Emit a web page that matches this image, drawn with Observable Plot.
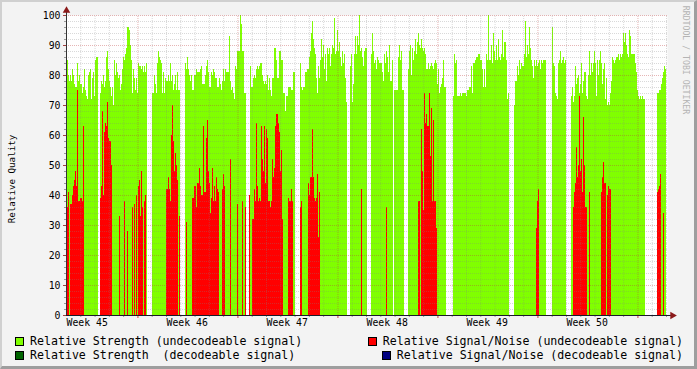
<!DOCTYPE html>
<html>
<head>
<meta charset="utf-8">
<script src="https://cdn.jsdelivr.net/npm/d3@7"></script>
<script src="https://cdn.jsdelivr.net/npm/@observablehq/plot@0.6"></script>
<style>
  html, body { margin: 0; padding: 0; background: #f3f3f3; }
  #chart { position: relative; width: 697px; height: 369px; background: #f3f3f3; overflow: hidden;
           font-family: "DejaVu Sans Mono", monospace; color: #000; }
  #chart svg { position: absolute; left: 0; top: 0; }
  #border { position: absolute; left: 0; top: 0; width: 697px; height: 369px; box-sizing: border-box;
            border-style: solid; border-width: 2px 3px 3px 2px;
            border-color: #d0d0d0 #9e9e9e #9e9e9e #d0d0d0; pointer-events: none; }
  .ylabel { position: absolute; left: 11px; top: 179px; transform: translate(-50%, -50%) rotate(-90deg);
            font-size: 9.2px; white-space: pre; }
  .watermark { position: absolute; left: 686px; top: 60px; transform: translate(-50%, -50%) rotate(90deg);
               font-size: 8.2px; color: #b4b4b4; white-space: pre; }
  .leg { position: absolute; display: flex; align-items: center; font-size: 11.6px; line-height: 14px; white-space: pre; }
  .leg .box { width: 7px; height: 7px; border: 1px solid #000; margin-right: 6px; flex: none; }
</style>
</head>
<body>
<div id="chart"></div>
<script>
// ---------------- data (one value per time slot, ~1.7 h each; null = no data) ----------------
const weekLabels = ["Week 45", "Week 46", "Week 47", "Week 48", "Week 49", "Week 50"];
const slotsPerWeek = 100;
const slotsPerDay = 100 / 7;
const nSlots = 601;

// Relative Strength (undecodeable signal)
const strengthUndecodeable = [
  85,85,80,78,80,78,82,80,77,76,
  76,84,78,80,77,77,74,76,82,75,
  73,72,80,81,82,72,79,81,73,85,
  86,86,null,null,74,78,77,80,76,78,
  86,88,82,78,76,73,76,70,85,80,
  84,81,79,80,75,77,82,86,85,87,
  89,96,96,95,90,85,74,82,79,75,
  79,74,84,83,83,82,83,81,83,81,
  84,null,null,null,null,null,74,74,80,77,
  74,84,88,86,85,84,74,81,74,79,
  78,78,80,78,84,78,80,75,77,80,
  75,81,75,75,null,null,null,null,null,84,
  82,86,82,80,78,80,75,75,80,80,
  82,81,81,81,82,83,77,77,77,80,
  83,85,81,76,76,81,80,82,81,79,
  79,76,76,79,77,75,78,82,78,82,
  81,81,81,93,78,75,76,74,72,83,
  82,88,88,88,100,97,88,88,74,74,
  null,null,null,null,83,76,76,79,80,79,
  82,83,82,83,84,84,80,78,77,78,
  77,80,75,79,75,73,79,79,89,89,
  85,79,79,88,88,85,85,74,74,68,
  73,73,76,76,76,75,75,81,81,null,
  null,null,null,null,84,76,75,76,76,81,
  81,82,82,86,88,94,98,92,89,87,
  79,74,83,79,85,92,86,90,82,87,
  78,89,87,89,83,87,90,89,99,87,
  88,95,88,91,86,83,88,84,87,79,
  71,null,null,null,83,87,71,77,87,93,
  87,93,90,100,88,89,86,83,88,89,
  89,null,null,null,null,87,94,88,84,85,
  82,86,85,84,84,84,81,78,87,84,
  88,86,81,90,78,78,85,null,75,75,
  75,75,86,90,85,88,75,75,null,null,
  null,null,82,88,90,80,89,85,88,92,
  87,91,94,90,89,92,89,88,89,87,
  82,82,84,82,83,84,83,82,84,85,
  84,77,82,74,76,77,79,85,76,76,
  null,null,null,null,null,null,null,73,87,84,
  85,73,73,73,74,73,74,74,74,74,
  73,75,75,76,76,83,74,84,84,85,
  86,86,87,87,85,85,82,76,82,76,
  87,85,100,85,85,90,84,94,88,85,
  90,85,92,86,85,87,95,86,91,91,
  85,72,74,null,null,null,null,null,70,78,
  78,83,80,85,82,84,83,83,87,98,
  86,90,87,96,89,85,83,79,85,83,
  85,83,84,85,82,85,84,85,85,85,
  null,null,null,null,null,null,96,84,83,74,
  73,72,84,85,88,84,85,86,84,85,
  null,null,null,null,null,73,76,71,73,83,
  77,79,80,74,77,84,74,78,81,81,
  73,72,80,88,80,84,81,84,88,84,
  73,85,80,85,88,84,77,82,84,72,
  79,70,71,70,74,78,86,85,84,85,
  86,86,87,85,87,86,87,94,91,94,
  90,87,86,95,93,87,87,87,87,84,
  81,75,73,72,73,72,73,72,72,null,
  null,null,null,null,null,null,null,null,null,null,
  null,74,74,75,75,77,79,81,83,82,
  null
];

// Relative Signal/Noise (undecodeable signal): [slot, value]
const snrUndecodeable = [
  [1,36],[2,41],[4,37],[5,37],[6,40],[7,43],[8,45],[9,48],[10,43],[11,75],[12,38],[13,38],[14,39],[15,39],[16,38],[17,63],
  [34,39],[35,43],[36,68],[37,40],[38,61],[39,64],[40,63],[41,71],[42,59],[43,58],[44,58],[45,50],
  [53,33],[58,38],[61,28],[66,36],[68,37],[70,40],[72,43],[73,45],[74,33],[75,48],[76,36],[78,38],[79,40],
  [100,42],[101,42],[102,46],[103,42],[104,38],[105,60],[106,70],[107,58],[108,48],[109,54],[110,50],[111,45],[113,33],
  [120,31],
  [126,39],[127,39],[128,43],[129,43],[130,36],[131,44],[132,44],[133,49],[134,43],[135,40],[136,40],[137,63],[138,41],
  [139,41],[140,59],[141,65],[142,48],[143,44],[144,34],[145,39],[146,49],[147,38],[148,43],[149,38],[150,46],[151,42],[152,41],
  [156,42],[157,47],[158,43],[164,52],[171,37],[176,38],[179,36],[183,40],
  [186,32],[187,32],[188,42],[189,38],[190,64],[191,43],[192,38],[193,39],[194,38],[195,63],[196,52],[197,48],[198,63],
  [199,44],[200,62],[201,59],[202,38],[203,38],[204,36],[205,38],[206,52],[207,46],[208,49],[209,63],[210,67],[211,67],
  [212,64],[213,61],[214,48],[215,55],[216,32],
  [222,39],[223,38],[224,38],[225,42],[226,38],[234,36],[235,38],
  [242,44],[243,40],[244,46],[245,46],[246,62],[247,46],[248,39],[249,38],[250,39],[251,47],[252,26],[253,41],
  [295,42],[320,36],
  [352,38],[353,38],[355,62],[356,48],[357,35],[358,74],[359,64],[360,67],[361,63],[362,63],[363,74],[364,53],[365,69],
  [366,38],[367,65],[368,38],[369,38],[370,29],
  [470,29],[471,38],[472,42],
  [507,36],[508,41],[509,44],[510,56],[511,46],[512,50],[513,73],[514,48],[515,52],[516,41],[517,66],[518,50],[519,36],[520,36],[523,41],
  [535,41],[536,46],[537,51],[538,44],[539,44],[541,40],[542,43],[543,42],[544,42],
  [591,41],[592,42],[593,43],[594,47],[597,34]
];

// Decodeable series: no samples visible in this period
const strengthDecodeable = [];
const snrDecodeable = [];

const seriesNames = [
  "Relative Strength (undecodeable signal)",
  "Relative Signal/Noise (undecodeable signal)",
  "Relative Strength  (decodeable signal)",
  "Relative Signal/Noise (decodeable signal)"
];
const seriesColors = ["#80ff00", "#ff0000", "#006400", "#000080"];

// ---------------- build ----------------
const toRows = arr => arr.map((v, i) => ({i, v})).filter(d => d.v != null);
const pairRows = arr => arr.map(([i, v]) => ({i, v}));
const strengthRows = toRows(strengthUndecodeable);
const snrRows = pairRows(snrUndecodeable);
const strengthDecRows = pairRows(strengthDecodeable);
const snrDecRows = pairRows(snrDecodeable);

const weekRows = weekLabels.map((label, k) => ({slot: k * slotsPerWeek, label}));
const majorY = d3.range(0, 101, 10);
const minorY = d3.range(2, 100, 2).filter(v => v % 10 !== 0);
const majorGridY = d3.range(10, 101, 10);
const daySlots = d3.range(1, 43).map(d => d * slotsPerDay).filter(s => s < nSlots);
const majorX = daySlots.filter((s, k) => (k + 1) % 7 === 5);
const minorX = daySlots.filter((s, k) => (k + 1) % 7 !== 5);

const minorGrid = {stroke: "rgba(128,128,128,0.3)", strokeDasharray: "1,1"};
const majorGrid = {stroke: "rgba(190,60,60,0.38)", strokeDasharray: "1,1"};
const bar = (rows, fill) => Plot.rectY(rows, {x1: "i", x2: d => d.i + 1, y: "v", fill, shapeRendering: "crispEdges"});

const plot = Plot.plot({
  width: 697,
  height: 335,
  marginLeft: 66,
  marginRight: 30,
  marginTop: 15,
  marginBottom: 20,
  style: {background: "transparent", fontFamily: "'DejaVu Sans Mono', monospace", fontSize: "9.8px", color: "#000"},
  x: {domain: [0, nSlots], range: [66, 667], axis: null, label: null},
  y: {domain: [0, 100], range: [315, 15], axis: null, label: null},
  marks: [
    Plot.frame({fill: "#ffffff", stroke: null}),
    bar(strengthRows, seriesColors[0]),
    bar(strengthDecRows, seriesColors[2]),
    bar(snrRows, seriesColors[1]),
    bar(snrDecRows, seriesColors[3]),
    Plot.ruleY(minorY, {x1: 0, x2: nSlots, ...minorGrid}),
    Plot.ruleX(minorX, {y1: 0, y2: 100, ...minorGrid}),
    Plot.ruleY(majorGridY, {x1: 0, x2: nSlots, ...majorGrid}),
    Plot.ruleX(majorX, {y1: 0, y2: 100, ...majorGrid}),
    Plot.axisY({ticks: minorY, tickSize: 2, tickFormat: () => "", label: null, stroke: "#999"}),
    Plot.axisY({ticks: majorY, tickSize: 3, tickPadding: 3, fontSize: 9.8, label: null, stroke: "#a04040"}),
    Plot.axisX({ticks: minorX, tickSize: 2, tickFormat: () => "", label: null, stroke: "#999"}),
    Plot.axisX({ticks: majorX, tickSize: 3, tickFormat: () => "", label: null, stroke: "#c04040"}),
    Plot.text(weekRows, {x: "slot", text: "label", frameAnchor: "bottom", textAnchor: "start", lineAnchor: "top", dy: 4, fontSize: 9.8, fill: "#000"}),
    Plot.ruleX([0], {y1: 0, y2: 101.5, stroke: "#333"}),
    Plot.ruleY([0], {x1: 0, x2: nSlots + 4, stroke: "#1a1a2a"}),
    Plot.dot([0], {frameAnchor: "top-left", symbol: "triangle", r: 2.8, fill: "#8b1a1a", stroke: null, dy: -5}),
    Plot.dot([0], {frameAnchor: "bottom-right", symbol: "triangle", rotate: 90, r: 2.8, fill: "#8b1a1a", stroke: null, dx: 5})
  ]
});

const chart = document.getElementById("chart");
chart.appendChild(plot);

const yl = document.createElement("div");
yl.className = "ylabel";
yl.textContent = "Relative Quality";
chart.appendChild(yl);

const wm = document.createElement("div");
wm.className = "watermark";
wm.textContent = "RRDTOOL / TOBI OETIKER";
chart.appendChild(wm);

// legend: left column left-aligned, right column right-aligned
const legendSlots = [
  {k: 0, style: "left:15px; top:334px;"},
  {k: 1, style: "right:14px; top:334px;"},
  {k: 2, style: "left:15px; top:348px;"},
  {k: 3, style: "right:14px; top:348px;"}
];
for (const {k, style} of legendSlots) {
  const item = document.createElement("div");
  item.className = "leg";
  item.setAttribute("style", style);
  const box = document.createElement("span");
  box.className = "box";
  box.style.background = seriesColors[k];
  const t = document.createElement("span");
  t.textContent = seriesNames[k];
  item.appendChild(box);
  item.appendChild(t);
  chart.appendChild(item);
}

const border = document.createElement("div");
border.id = "border";
chart.appendChild(border);
</script>
</body>
</html>
